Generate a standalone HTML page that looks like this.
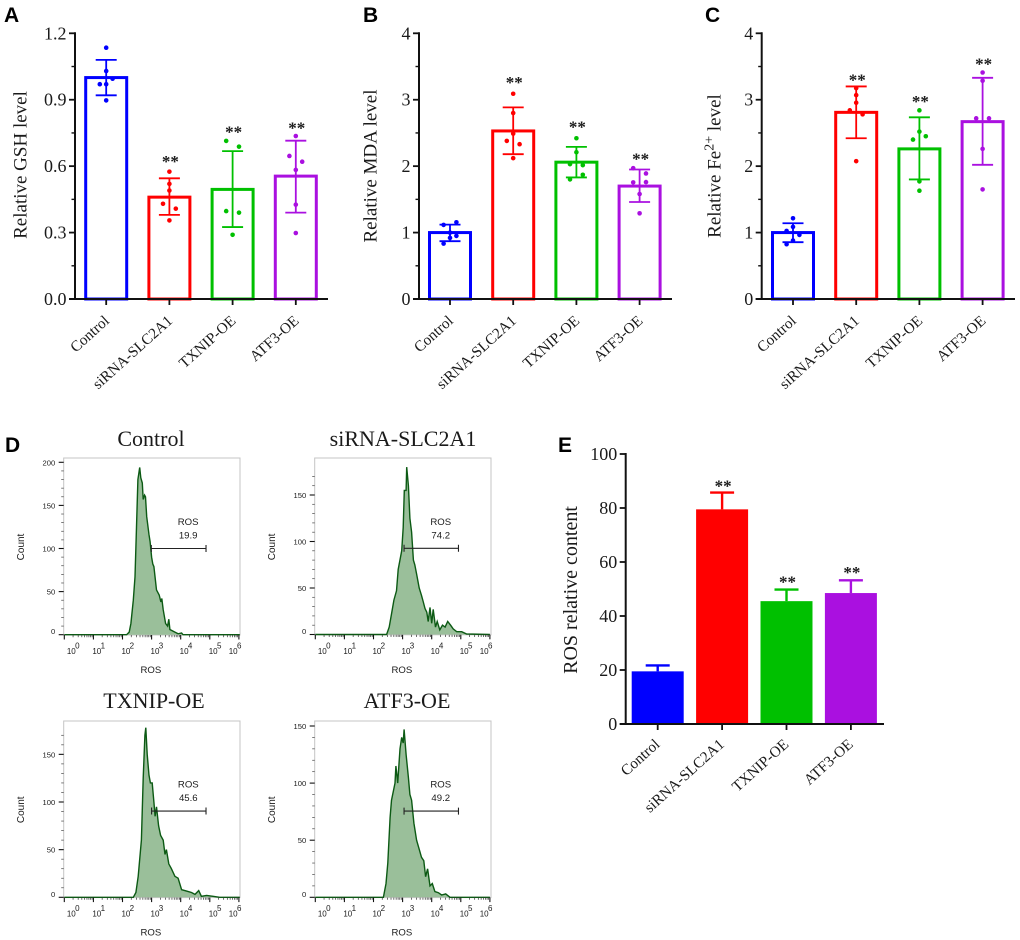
<!DOCTYPE html>
<html>
<head>
<meta charset="utf-8">
<title>Ferroptosis and ROS figure</title>
<style>
html,body{margin:0;padding:0;background:#fff;}
svg{display:block;filter:blur(0.35px);}
.serif{font-family:"Liberation Serif",serif;fill:#1a1a1a;}
.sans{font-family:"Liberation Sans",sans-serif;fill:#1a1a1a;}
.letter{font-family:"Liberation Sans",sans-serif;font-weight:700;font-size:21px;fill:#000;}
</style>
</head>
<body>
<svg id="figure" xmlns="http://www.w3.org/2000/svg" width="1020" height="940" viewBox="0 0 1020 940">
  <rect width="1020" height="940" fill="#fff"/>
  <text class="letter" x="4" y="22">A</text>
  <text class="letter" x="363" y="22">B</text>
  <text class="letter" x="705" y="22">C</text>
  <text class="letter" x="5" y="452">D</text>
  <text class="letter" x="558" y="452">E</text>

  <text class="serif" font-size="19" text-anchor="middle" transform="translate(26.5,165) rotate(-90)">Relative GSH level</text>
  <text class="serif" font-size="19" text-anchor="middle" transform="translate(376.5,166) rotate(-90)">Relative MDA level</text>
  <text class="serif" font-size="19" text-anchor="middle" transform="translate(720.5,166) rotate(-90)">Relative Fe<tspan font-size="14" dy="-7">2+</tspan><tspan dy="7"> level</tspan></text>
  <text class="serif" font-size="20" text-anchor="middle" transform="translate(577,590) rotate(-90)">ROS relative content</text>

  <text class="serif" font-size="22" text-anchor="middle" x="151" y="446">Control</text>
  <text class="serif" font-size="22" text-anchor="middle" x="403" y="446">siRNA-SLC2A1</text>
  <text class="serif" font-size="22" text-anchor="middle" x="154" y="708">TXNIP-OE</text>
  <text class="serif" font-size="22" text-anchor="middle" x="407" y="708">ATF3-OE</text>
</svg>

<script>
// ---------- shared categories ----------
const categories = ['Control', 'siRNA-SLC2A1', 'TXNIP-OE', 'ATF3-OE'];
const barColors = ['#0000ff', '#ff0000', '#00c000', '#aa10e0'];

// ---------- panel A: GSH ----------
const gshTicks = ['0.0', '0.3', '0.6', '0.9', '1.2'];
const gshMeans = [1.0, 0.46, 0.495, 0.555];
const gshUpper = [1.08, 0.545, 0.668, 0.715];
const gshLower = [0.92, 0.38, 0.325, 0.39];
const gshDots = [
  [1.135, 1.03, 0.995, 0.97, 0.97, 0.897],
  [0.575, 0.52, 0.49, 0.43, 0.408, 0.355],
  [0.714, 0.688, 0.397, 0.39, 0.29],
  [0.736, 0.646, 0.62, 0.583, 0.426, 0.298]
];
const gshSlots = [
  [0, 0, 1, -1, 0, 0],
  [0, 0, 0, -1, 1, 0],
  [-1, 1, -1, 1, 0],
  [0, -1, 1, 0, 0, 0]
];
const gshStars = [null, 0.63, 0.763, 0.781];

// ---------- panel B: MDA ----------
const mdaTicks = ['0', '1', '2', '3', '4'];
const mdaMeans = [1.0, 2.53, 2.06, 1.70];
const mdaUpper = [1.12, 2.885, 2.29, 1.95];
const mdaLower = [0.87, 2.18, 1.83, 1.46];
const mdaDots = [
  [1.155, 1.115, 1.0, 0.95, 0.92, 0.834],
  [3.09, 2.80, 2.49, 2.38, 2.33, 2.12],
  [2.42, 2.21, 2.03, 2.015, 1.87, 1.80],
  [1.97, 1.89, 1.755, 1.76, 1.58, 1.29]
];
const mdaSlots = [
  [1, -1, 0, 1, 0, -1],
  [0, 0, 0, -1, 1, 0],
  [0, 0, -1, 1, 1, -1],
  [-1, 1, -1, 1, 0, 0]
];
const mdaStars = [null, 3.29, 2.62, 2.135];

// ---------- panel C: Fe2+ ----------
const feTicks = ['0', '1', '2', '3', '4'];
const feMeans = [1.0, 2.81, 2.26, 2.67];
const feUpper = [1.14, 3.2, 2.735, 3.33];
const feLower = [0.855, 2.42, 1.8, 2.02];
const feDots = [
  [1.215, 1.085, 1.025, 0.965, 0.88, 0.825],
  [3.175, 3.07, 2.955, 2.84, 2.78, 2.075],
  [2.84, 2.52, 2.45, 2.40, 1.77, 1.63],
  [3.41, 3.285, 2.72, 2.72, 2.26, 1.65]
];
const feSlots = [
  [0, 0, -1, 1, 0, -1],
  [0, 0, 0, -1, 1, 0],
  [0, 0, 1, -1, 0, 0],
  [0, 0, -1, 1, 0, 0]
];
const feStars = [null, 3.33, 3.0, 3.57];

// ---------- panel E: ROS ----------
const rosTicks = ['0', '20', '40', '60', '80', '100'];
const rosMeans = [19.5, 79.5, 45.5, 48.5];
const rosUpper = [21.7, 85.7, 49.8, 53.2];
const rosStars = [null, 88.8, 53.3, 56.8];

// ---------- panel D: histograms (log10 ROS, count) ----------
const logDecades = [0, 1, 2, 3, 4, 5, 6];
const controlLog = [0, 2.14, 2.23, 2.29, 2.37, 2.43, 2.48, 2.53, 2.59, 2.63, 2.68, 2.71, 2.76, 2.79, 2.83, 2.91, 2.95, 3.0, 3.04, 3.08, 3.17, 3.26, 3.32, 3.35, 3.40, 3.48, 3.55, 3.59, 3.63, 3.80, 3.91, 4.03, 4.08, 6.03];
const controlCount = [0, 0, 3, 13, 40, 67, 125, 180, 194, 182, 176, 157, 162, 160, 137, 116, 108, 90, 82, 79, 52, 46, 38, 42, 29, 13, 10, 18, 6, 3, 1, 2, 0, 0];
const sirnaLog = [0, 2.45, 2.54, 2.62, 2.70, 2.79, 2.85, 2.97, 3.02, 3.06, 3.12, 3.14, 3.20, 3.25, 3.31, 3.37, 3.42, 3.48, 3.57, 3.65, 3.71, 3.77, 3.83, 3.88, 3.94, 4.0, 4.05, 4.13, 4.19, 4.28, 4.37, 4.46, 4.55, 4.65, 4.74, 4.86, 5.03, 5.2, 6.0];
const sirnaCount = [0, 0, 8, 22, 37, 47, 70, 90, 115, 155, 155, 180, 160, 125, 110, 80, 75, 65, 50, 42, 35, 28, 24, 14, 29, 12, 27, 8, 14, 5, 10, 8, 14, 10, 6, 3, 3, 0.5, 0];
const txnipLog = [0, 2.37, 2.46, 2.54, 2.65, 2.71, 2.77, 2.80, 2.85, 2.91, 2.96, 3.02, 3.08, 3.12, 3.17, 3.24, 3.31, 3.40, 3.46, 3.51, 3.59, 3.68, 3.80, 3.91, 4.03, 4.14, 4.26, 4.37, 4.49, 4.62, 4.71, 4.89, 5.11, 5.34, 6.03];
const txnipCount = [0, 0, 5, 22, 60, 125, 170, 178, 150, 128, 120, 120, 100, 85, 95, 75, 65, 60, 45, 50, 35, 30, 22, 20, 8, 7, 6, 5, 3, 7, 1, 2, 1, 0, 0];
const atf3Log = [0, 2.34, 2.43, 2.49, 2.57, 2.62, 2.74, 2.77, 2.83, 2.91, 2.97, 3.02, 3.05, 3.12, 3.20, 3.25, 3.31, 3.39, 3.48, 3.56, 3.65, 3.73, 3.79, 3.86, 3.94, 4.02, 4.11, 4.23, 4.34, 4.48, 4.63, 6.0];
const atf3Count = [0, 0, 12, 30, 70, 85, 100, 115, 100, 130, 140, 135, 147, 125, 105, 90, 85, 65, 50, 43, 35, 32, 18, 25, 10, 12, 5, 4, 2, 3, 0, 0];
const controlCountTicks = [0, 50, 100, 150, 200];
const sirnaCountTicks = [0, 50, 100, 150];
const txnipCountTicks = [0, 50, 100, 150];
const atf3CountTicks = [0, 50, 100, 150];

// ---------- drawing helpers ----------
const SVGNS = 'http://www.w3.org/2000/svg';
const figure = document.getElementById('figure');
function mk(tag, attrs, parent, text) {
  const n = document.createElementNS(SVGNS, tag);
  for (const k in attrs) n.setAttribute(k, attrs[k]);
  if (text !== undefined) n.textContent = text;
  (parent || figure).appendChild(n);
  return n;
}

function drawBarPanel(p) {
  const group = mk('g', {});
  
  
  const yMax = parseFloat(p.ticks[p.ticks.length - 1]);
  const yScale = v => p.y0 - (v / yMax) * (p.y0 - p.yTop);
  const xScale = i => p.x0 + i * p.step;

  categories.forEach((cat, i) => {
    const c = xScale(i);
    const color = barColors[i];
    const top = yScale(p.means[i]);
    const bar = mk('rect', p.filled
      ? { x: c - p.barHalf, y: top, width: p.barHalf * 2, height: p.y0 - top, fill: color }
      : { x: c - p.barHalf, y: top, width: p.barHalf * 2, height: p.y0 - top, fill: 'none', stroke: color, 'stroke-width': 3 }, group);
    
    

    const upper = yScale(p.upper[i]);
    const lower = p.lower ? yScale(p.lower[i]) : top;
    const stem = mk('line', { x1: c, x2: c, y1: upper, y2: lower, stroke: color, 'stroke-width': p.filled ? 2.4 : 1.8 }, group);
    
    
    const capTop = mk('line', { x1: c - p.capHalf, x2: c + p.capHalf, y1: upper, y2: upper, stroke: color, 'stroke-width': p.filled ? 2.4 : 1.8 }, group);
    
    
    if (p.lower) {
      const capLow = mk('line', { x1: c - p.capHalf, x2: c + p.capHalf, y1: lower, y2: lower, stroke: color, 'stroke-width': 1.8 }, group);
      
      
    }
    if (p.dots) {
      p.dots[i].forEach((v, k) => {
        const dot = mk('circle', { cx: c + p.slots[i][k] * 6.4, cy: yScale(v), r: 2.3, fill: color }, group);
        
        
      });
    }
    if (p.stars[i] !== null) {
      const star = mk('text', { class: 'serif', x: c + 1, y: yScale(p.stars[i]) + 7.5, 'font-size': 17, 'font-weight': 700, 'text-anchor': 'middle' }, group, '**');
      
      
    }
    const tick = mk('line', { x1: c, x2: c, y1: p.y0, y2: p.y0 + 6, stroke: '#111', 'stroke-width': 1.8 }, group);
    
    
    const lx = c + p.labelDx;
    const ly = p.y0 + p.labelDy;
    const label = mk('text', { class: 'serif', 'font-size': 15.2, 'text-anchor': 'end', transform: 'translate(' + lx + ',' + ly + ') rotate(-42)' }, group, cat);
    
    
  });

  const yAxis = mk('line', { x1: p.axisX, x2: p.axisX, y1: p.yTop - 1, y2: p.y0 + 1, stroke: '#111', 'stroke-width': 2 }, group);
  
  
  const xAxis = mk('line', { x1: p.axisX - 6, x2: p.xEnd, y1: p.y0, y2: p.y0, stroke: '#111', 'stroke-width': 2 }, group);
  
  

  p.ticks.forEach((t, i) => {
    const v = parseFloat(t);
    const y = yScale(v);
    const tick = mk('line', { x1: p.axisX - 6, x2: p.axisX, y1: y, y2: y, stroke: '#111', 'stroke-width': 1.8 }, group);
    
    
    const label = mk('text', { class: 'serif', x: p.axisX - 8.5, y: y + 6, 'font-size': p.tickFont, 'text-anchor': 'end' }, group, t);
    
    
    if (p.minor && i < p.ticks.length - 1) {
      const m = yScale((v + parseFloat(p.ticks[i + 1])) / 2);
      const minorTick = mk('line', { x1: p.axisX - 3.5, x2: p.axisX, y1: m, y2: m, stroke: '#111', 'stroke-width': 1.4 }, group);
      
      
    }
  });
}

function drawHistogram(h) {
  const group = mk('g', {});
  
  
  const xTick0 = h.left + 0.6;
  const xScale = v => xTick0 + v * 29.1;
  const yScale = c => h.y0 - c * h.pxPerCount;
  const bottom = h.y0 + 0.3;

  const frame = mk('rect', { x: h.left, y: h.top, width: h.width, height: bottom - h.top, fill: '#fff', stroke: '#c4c4c4', 'stroke-width': 1 }, group);
  
  

  const coords = h.logs.map((v, i) => xScale(v).toFixed(1) + ',' + yScale(h.counts[i]).toFixed(1));
  const line = 'M' + coords.join('L');
  const area = mk('path', { d: line + 'Z', fill: '#9abf9a', stroke: 'none' }, group);
  
  
  const curve = mk('path', { d: line, fill: 'none', stroke: '#0c5a14', 'stroke-width': 1.4 }, group);
  
  

  logDecades.forEach((d, i) => {
    const x = xScale(d);
    const tick = mk('line', { x1: x, x2: x, y1: bottom, y2: bottom + 4.5, stroke: '#111', 'stroke-width': 1.1 }, group);
    
    
    const shift = i === 0 ? 7 : (i === 6 ? -5.7 : 3.4);
    const base = mk('text', { class: 'sans', x: x + shift, y: bottom + 19, 'font-size': 8, 'text-anchor': 'middle' }, group, '10');
    
    
    const power = mk('text', { class: 'sans', x: x + shift + 6, y: bottom + 13.5, 'font-size': 8, 'text-anchor': 'middle' }, group, String(d));
    
    
    if (i < logDecades.length - 1) {
      for (let m = 2; m < 10; m++) {
        const mx = xScale(d + Math.log10(m));
        const minorTick = mk('line', { x1: mx, x2: mx, y1: bottom, y2: bottom + 2.2, stroke: '#333', 'stroke-width': 0.7 }, group);
        
        
      }
    }
  });

  h.countTicks.forEach(c => {
    const y = yScale(c);
    const tick = mk('line', { x1: h.left - 5, x2: h.left, y1: y, y2: y, stroke: '#111', 'stroke-width': 1.1 }, group);
    
    
    const label = mk('text', { class: 'sans', x: h.left - 8.5, y: y + (c === 0 ? -0.5 : 3), 'font-size': 7.6, 'text-anchor': 'end' }, group, String(c));
    
    
  });
  for (let c = 10; c < h.countTicks[h.countTicks.length - 1] + 30; c += 10) {
    const y = yScale(c);
    if (c % 50 === 0 || y < h.top) continue;
    const minorTick = mk('line', { x1: h.left - 2.5, x2: h.left, y1: y, y2: y, stroke: '#444', 'stroke-width': 0.7 }, group);
    
    
  }

  const midX = h.left + h.width / 2;
  const xTitle = mk('text', { class: 'sans', x: midX - 1, y: bottom + 38, 'font-size': 9.6, 'text-anchor': 'middle' }, group, 'ROS');
  
  
  const midY = (h.top + bottom) / 2;
  const yTitle = mk('text', { class: 'sans', 'font-size': 10, 'text-anchor': 'middle', transform: 'translate(' + (h.left - 39.5) + ',' + (midY + 0.5) + ') rotate(-90)' }, group, 'Count');
  
  

  const gx1 = xScale(h.gateFrom);
  const gx2 = xScale(h.gateTo);
  const gy = yScale(h.gateCount);
  const gate = mk('path', { d: 'M' + gx1 + ',' + (gy - 3.5) + 'V' + (gy + 3.5) + 'M' + gx1 + ',' + gy + 'H' + gx2 + 'M' + gx2 + ',' + (gy - 3.5) + 'V' + (gy + 3.5), fill: 'none', stroke: '#222', 'stroke-width': 1.1 }, group);
  
  
  const gateName = mk('text', { class: 'sans', x: (gx1 + gx2) / 2 + 9.5, y: gy - 23.5, 'font-size': 9.6, 'text-anchor': 'middle' }, group, 'ROS');
  
  
  const gateValue = mk('text', { class: 'sans', x: (gx1 + gx2) / 2 + 9.5, y: gy - 10, 'font-size': 9.6, 'text-anchor': 'middle' }, group, h.gateValue);
  
  
}

// ---------- render ----------
drawBarPanel({ name: 'gsh', ticks: gshTicks, means: gshMeans, upper: gshUpper, lower: gshLower, dots: gshDots, slots: gshSlots, stars: gshStars,
  y0: 299, yTop: 33.3, axisX: 75, xEnd: 328, x0: 106.2, step: 63.2, barHalf: 20.5, capHalf: 10.5, minor: true, tickFont: 18, labelDx: 4, labelDy: 23 });
drawBarPanel({ name: 'mda', ticks: mdaTicks, means: mdaMeans, upper: mdaUpper, lower: mdaLower, dots: mdaDots, slots: mdaSlots, stars: mdaStars,
  y0: 299, yTop: 33.3, axisX: 419, xEnd: 672, x0: 450, step: 63.2, barHalf: 20.5, capHalf: 10.5, minor: true, tickFont: 18, labelDx: 4, labelDy: 23 });
drawBarPanel({ name: 'fe', ticks: feTicks, means: feMeans, upper: feUpper, lower: feLower, dots: feDots, slots: feSlots, stars: feStars,
  y0: 299, yTop: 33.3, axisX: 761.7, xEnd: 1015, x0: 793, step: 63.2, barHalf: 20.5, capHalf: 10.5, minor: true, tickFont: 18, labelDx: 4, labelDy: 23 });
drawBarPanel({ name: 'ros', ticks: rosTicks, means: rosMeans, upper: rosUpper, lower: null, dots: null, slots: null, stars: rosStars, filled: true,
  y0: 724, yTop: 454, axisX: 625.7, xEnd: 884, x0: 657.7, step: 64.4, barHalf: 26, capHalf: 12, minor: false, tickFont: 18, labelDx: 3, labelDy: 21.5 });

drawHistogram({ name: 'control', logs: controlLog, counts: controlCount, countTicks: controlCountTicks, left: 63.7, top: 458, width: 176.3, y0: 634.7, pxPerCount: 0.862, gateFrom: 2.99, gateTo: 4.87, gateCount: 100, gateValue: '19.9' });
drawHistogram({ name: 'sirna', logs: sirnaLog, counts: sirnaCount, countTicks: sirnaCountTicks, left: 314.7, top: 458, width: 176.3, y0: 634.5, pxPerCount: 0.93, gateFrom: 3.05, gateTo: 4.92, gateCount: 92.7, gateValue: '74.2' });
drawHistogram({ name: 'txnip', logs: txnipLog, counts: txnipCount, countTicks: txnipCountTicks, left: 63.7, top: 721, width: 176.3, y0: 897.3, pxPerCount: 0.953, gateFrom: 3.0, gateTo: 4.87, gateCount: 90.5, gateValue: '45.6' });
drawHistogram({ name: 'atf3', logs: atf3Log, counts: atf3Count, countTicks: atf3CountTicks, left: 314.7, top: 721, width: 176.3, y0: 897.3, pxPerCount: 1.142, gateFrom: 3.05, gateTo: 4.92, gateCount: 75.5, gateValue: '49.2' });
</script>
</body>
</html>
